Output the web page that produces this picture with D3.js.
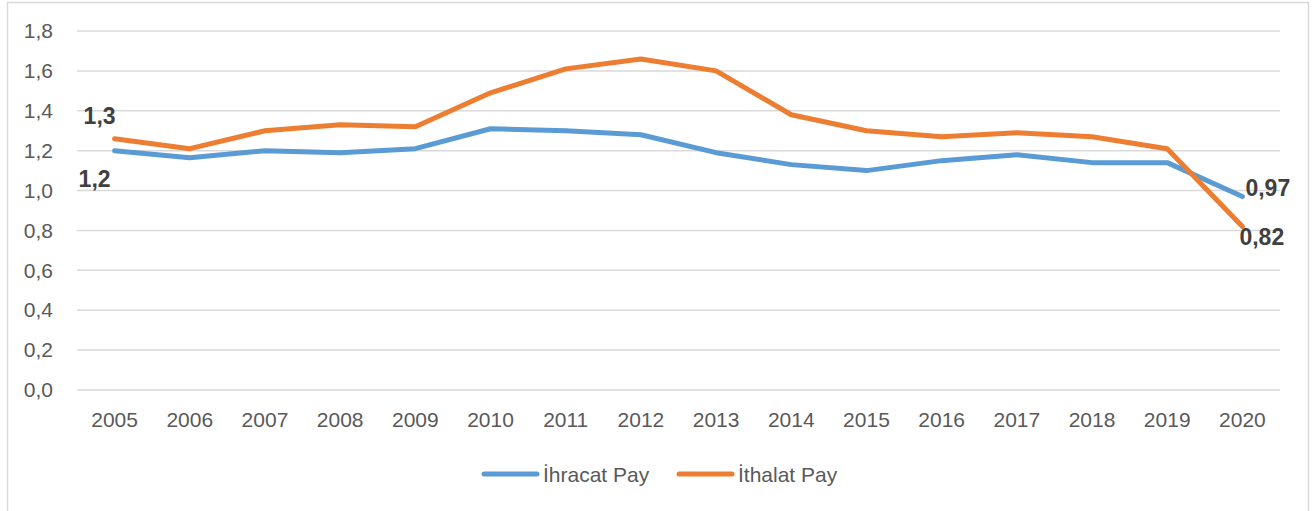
<!DOCTYPE html>
<html>
<head>
<meta charset="utf-8">
<script src="https://cdn.jsdelivr.net/npm/d3@7"></script>
<style>
  html, body { margin: 0; padding: 0; background: #fff; }
  svg { display: block; font-family: "Liberation Sans", Arial, sans-serif; }
</style>
</head>
<body>
<svg id="chart" width="1314" height="511"></svg>
<script>
// Years on the category axis
const years = ["2005","2006","2007","2008","2009","2010","2011","2012","2013","2014","2015","2016","2017","2018","2019","2020"];
// Export share series
const ihracatPay = [1.20,1.165,1.20,1.19,1.21,1.31,1.30,1.28,1.19,1.13,1.10,1.15,1.18,1.14,1.14,0.97];
// Import share series
const ithalatPay = [1.26,1.21,1.30,1.33,1.32,1.49,1.61,1.66,1.60,1.38,1.30,1.27,1.29,1.27,1.21,0.82];
// Value axis ticks
const yTicks = [0,0.2,0.4,0.6,0.8,1.0,1.2,1.4,1.6,1.8];
const seriesNames = ["İhracat Pay","İthalat Pay"];
const seriesColors = ["#5B9BD5","#ED7D31"];
// Point labels: series index, year index, decimals, placement
const pointLabels = [
  {s: 1, i: 0, dec: 1, pos: "above"},
  {s: 0, i: 0, dec: 1, pos: "below"},
  {s: 0, i: 15, dec: 2, pos: "right"},
  {s: 1, i: 15, dec: 2, pos: "belowRight"}
];

const series = [ihracatPay, ithalatPay];
const svg = d3.select("#chart");

// outer chart frame
svg.append("rect")
  .attr("x", 7.5).attr("y", 2.5)
  .attr("width", 1301).attr("height", 520)
  .attr("fill", "#fff").attr("stroke", "#D9D9D9").attr("stroke-width", 1.5);

const plot = {left: 77, right: 1280, top: 31, bottom: 390};

const x = d3.scaleBand().domain(years).range([plot.left, plot.right]);
const y = d3.scaleLinear().domain([0, 1.8]).range([plot.bottom, plot.top]);
const comma = v => d3.format(".1f")(v).replace(".", ",");

// horizontal gridlines
svg.append("g")
  .selectAll("line").data(yTicks).join("line")
  .attr("x1", plot.left).attr("x2", plot.right)
  .attr("y1", d => y(d)).attr("y2", d => y(d))
  .attr("stroke", "#D9D9D9").attr("stroke-width", 1.5);

// value axis labels
const yAxis = d3.axisLeft(y).tickValues(yTicks).tickFormat(comma).tickSize(0).tickPadding(0);
const gy = svg.append("g").attr("transform", `translate(${plot.left - 24},0)`).call(yAxis);
gy.select(".domain").remove();
gy.selectAll("text").attr("font-size", 21).attr("fill", "#595959")
  .attr("font-family", "Liberation Sans, Arial, sans-serif");

// category axis labels
const xAxis = d3.axisBottom(x).tickSize(0).tickPadding(0);
const gx = svg.append("g").attr("transform", `translate(0,${plot.bottom + 22})`).call(xAxis);
gx.select(".domain").remove();
gx.selectAll("text").attr("font-size", 21).attr("fill", "#595959")
  .attr("font-family", "Liberation Sans, Arial, sans-serif");

// series lines
const line = d3.line()
  .x((d, i) => x(years[i]) + x.bandwidth() / 2)
  .y(d => y(d));

series.forEach((s, k) => {
  svg.append("path")
    .datum(s)
    .attr("d", line)
    .attr("fill", "none")
    .attr("stroke", seriesColors[k])
    .attr("stroke-width", 5)
    .attr("stroke-linejoin", "round")
    .attr("stroke-linecap", "round");
});

// data labels
const offsets = {
  above: {dx: -15, dy: -15, anchor: "middle"},
  below: {dx: -20, dy: 36, anchor: "middle"},
  right: {dx: 3, dy: -1, anchor: "start"},
  belowRight: {dx: -3, dy: 19, anchor: "start"}
};
pointLabels.forEach(p => {
  const v = series[p.s][p.i];
  const o = offsets[p.pos];
  svg.append("text")
    .attr("x", x(years[p.i]) + x.bandwidth() / 2 + o.dx)
    .attr("y", y(v) + o.dy)
    .attr("text-anchor", o.anchor)
    .attr("font-size", 23).attr("font-weight", "bold").attr("fill", "#404040")
    .text(d3.format("." + p.dec + "f")(v).replace(".", ","));
});

// legend
const legendItems = [{x: 484}, {x: 679}];
legendItems.forEach((l, k) => {
  const g = svg.append("g").attr("transform", `translate(${l.x},474)`);
  g.append("line").attr("x1", 0).attr("x2", 53).attr("y1", 0).attr("y2", 0)
    .attr("stroke", seriesColors[k]).attr("stroke-width", 5).attr("stroke-linecap", "round");
  g.append("text").attr("x", 59).attr("y", 8)
    .attr("font-size", 21).attr("fill", "#595959")
    .text(seriesNames[k]);
});
</script>
</body>
</html>
